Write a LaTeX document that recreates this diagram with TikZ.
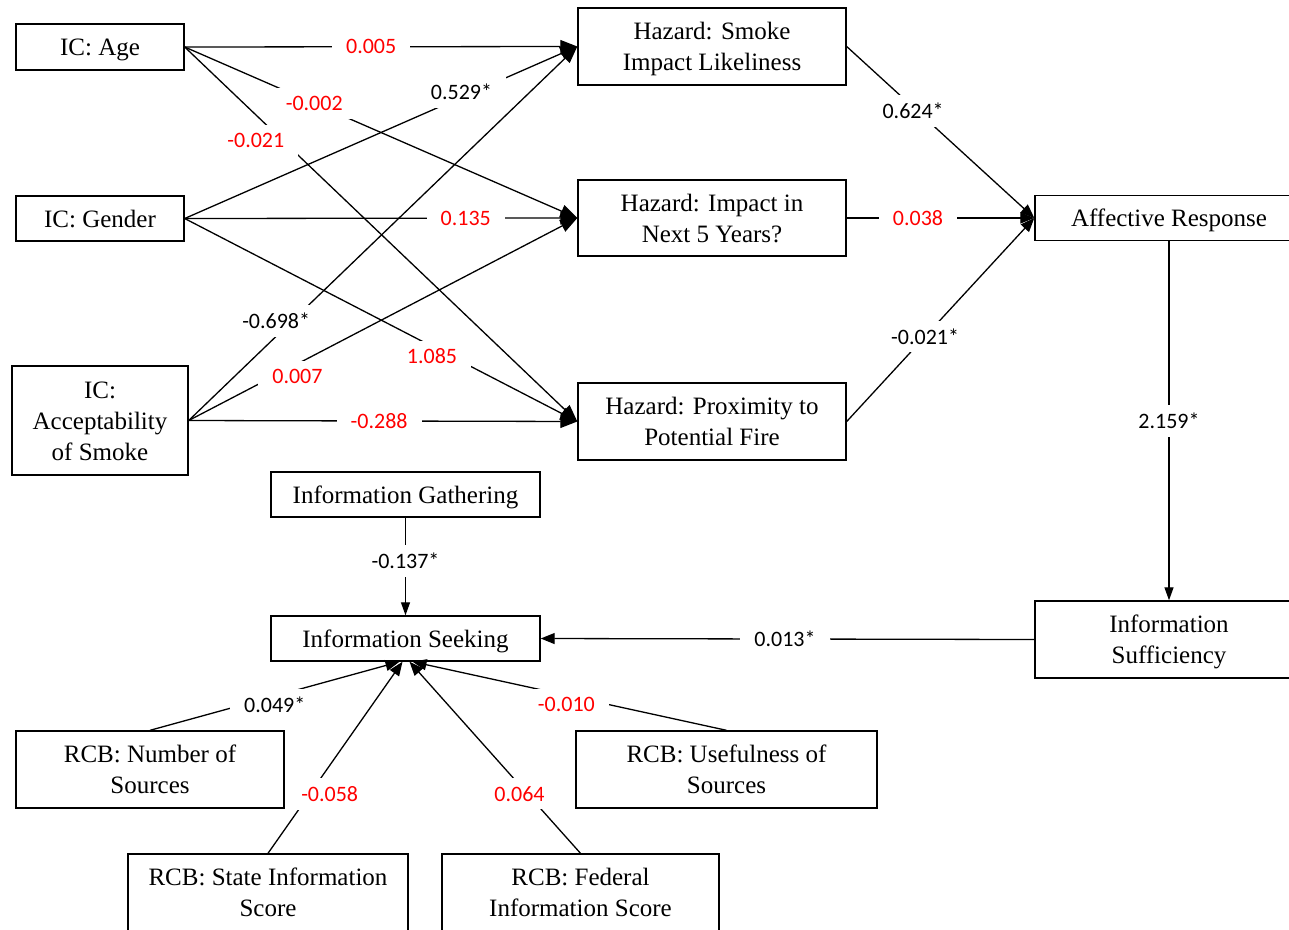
\documentclass[tikz,border=0pt]{standalone}
\usepackage{fontspec}
\setmainfont{Liberation Serif}
\newfontfamily\labfont{Carlito}
\usetikzlibrary{arrows.meta}
\begin{document}
\begin{tikzpicture}[x=1pt,y=-1pt,
  box/.style={draw, line width=1.4pt, align=center, inner sep=0pt,
    font=\fontsize{25}{31}\selectfont, text depth=0pt},
  one/.style={box, text height=17pt},
  two/.style={box, text height=48pt},
  three/.style={box, text height=79pt},
  edge/.style={line width=1.3pt, -{Triangle[length=17pt,width=13pt]}},
  edgesm/.style={line width=1.3pt, -{Triangle[length=14pt,width=11pt]}},
  edgev/.style={line width=1.3pt, -{Triangle[length=13pt,width=9pt]}},
  lab/.style={fill=white, inner xsep=14pt, inner ysep=8pt, text=black,
    font=\labfont\fontsize{22}{26}\selectfont},
  labr/.style={lab, text=red}
]
\useasboundingbox (0,0) rectangle (1289,929);

% nodes
\node[one, minimum width=168pt, minimum height=46pt] (age) at (100,47) {IC: Age};
\node[one, minimum width=168pt, minimum height=45pt] (gender) at (100,218.5) {IC: Gender};
\node[three, minimum width=176pt, minimum height=109pt] (accept) at (100,420.5) {IC:\\Acceptability\\of Smoke};
\node[two, minimum width=268pt, minimum height=77pt] (smoke) at (712,46.5) {Hazard: Smoke\\Impact Likeliness};
\node[two, minimum width=268pt, minimum height=76pt] (impact) at (712,218) {Hazard: Impact in\\Next 5 Years?};
\node[two, minimum width=268pt, minimum height=77pt] (prox) at (712,421.5) {Hazard: Proximity to\\Potential Fire};
\node[one, minimum width=268pt, minimum height=45pt] (aff) at (1169,218) {Affective Response};
\node[two, minimum width=268pt, minimum height=77pt] (suff) at (1169,639.5) {Information\\Sufficiency};
\node[one, minimum width=269pt, minimum height=45pt] (gather) at (405.5,494.5) {Information Gathering};
\node[one, minimum width=269pt, minimum height=45pt] (seek) at (405.5,638.5) {Information Seeking};
\node[two, minimum width=268pt, minimum height=77pt] (number) at (150,769.5) {RCB: Number of\\Sources};
\node[two, minimum width=301pt, minimum height=77pt] (useful) at (726.5,769.5) {RCB: Usefulness of\\Sources};
\node[two, minimum width=280pt, minimum height=77pt] (state) at (268,892.5) {RCB: State Information\\Score};
\node[two, minimum width=277pt, minimum height=77pt] (federal) at (580.5,892.5) {RCB: Federal\\Information Score};

\coordinate (s1) at ([xshift=-6pt]seek.south);
\coordinate (s2) at ([xshift=-3pt]seek.south);
\coordinate (s3) at ([xshift=4pt]seek.south);
\coordinate (s4) at ([xshift=7pt]seek.south);

% connectors
\draw[edge] (age.east) -- (smoke.west);
\draw[edge] (age.east) -- (impact.west);
\draw[edge] (age.east) -- (prox.west);
\draw[edge] (gender.east) -- (smoke.west);
\draw[edge] (gender.east) -- (impact.west);
\draw[edge] (gender.east) -- (prox.west);
\draw[edge] (accept.east) -- (smoke.west);
\draw[edge] (accept.east) -- (impact.west);
\draw[edge] (accept.east) -- (prox.west);
\draw[edgesm] (smoke.east) -- (aff.west);
\draw[edgesm] (impact.east) -- (aff.west);
\draw[edgesm] (prox.east) -- (aff.west);
\draw[edgev] (aff.south) -- (suff.north);
\draw[edgesm] (suff.west) -- (seek.east);
\draw[edgev] (gather.south) -- (seek.north);
\draw[edgesm] (number.north) -- (s1);
\draw[edgesm] (state.north) -- (s2);
\draw[edgesm] (federal.north) -- (s3);
\draw[edgesm] (useful.north) -- (s4);

% labels
\path (age.east) -- (smoke.west) node[labr, pos=0.475] {0.005};
\path (age.east) -- (impact.west) node[labr, pos=0.33] {-0.002};
\path (age.east) -- (prox.west) node[labr, pos=0.25, xshift=-27pt] {-0.021};
\path (gender.east) -- (smoke.west) node[lab, pos=0.705, yshift=5pt] {0.529*};
\path (gender.east) -- (impact.west) node[labr, pos=0.716] {0.135};
\path (gender.east) -- (prox.west) node[labr, pos=0.63, yshift=-10pt] {1.085};
\path (accept.east) -- (smoke.west) node[lab, pos=0.274, xshift=-19pt, yshift=-3pt] {-0.698*};
\path (accept.east) -- (impact.west) node[labr, pos=0.249, xshift=12pt, yshift=-6pt] {0.007};
\path (accept.east) -- (prox.west) node[labr, pos=0.49] {-0.288};
\path (smoke.east) -- (aff.west) node[lab, pos=0.354, yshift=-4pt] {0.624*};
\path (impact.east) -- (aff.west) node[labr, pos=0.38] {0.038};
\path (prox.east) -- (aff.west) node[lab, pos=0.418] {-0.021*};
\path (aff.south) -- (suff.north) node[lab, pos=0.5] {2.159*};
\path (suff.west) -- (seek.east) node[lab, pos=0.505] {0.013*};
\path (gather.south) -- (seek.north) node[lab, pos=0.444] {-0.137*};
\path (number.north) -- (s1) node[lab, pos=0.5, yshift=-9pt] {0.049*};
\path (state.north) -- (s2) node[labr, pos=0.31, xshift=20pt] {-0.058};
\path (federal.north) -- (s3) node[labr, pos=0.31, xshift=-8pt] {0.064};
\path (useful.north) -- (s4) node[labr, pos=0.51, yshift=-9pt] {-0.010};
\end{tikzpicture}
\end{document}
